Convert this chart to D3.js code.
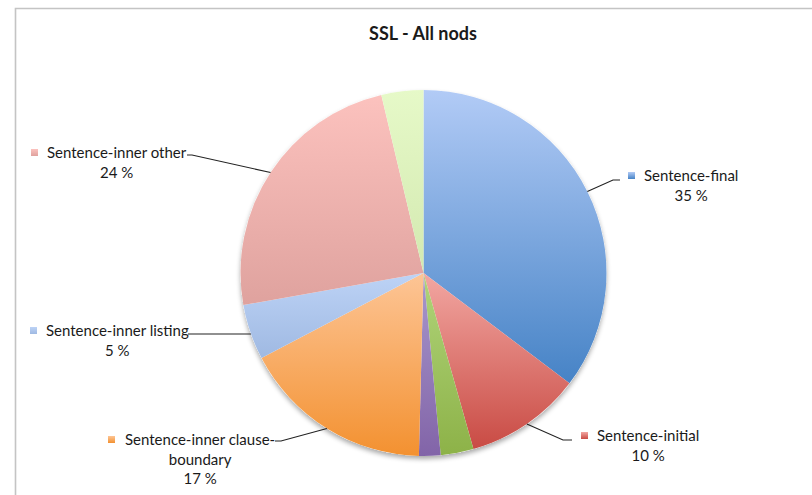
<!DOCTYPE html>
<html>
<head>
<meta charset="utf-8">
<script src="https://cdn.jsdelivr.net/npm/d3@7"></script>
<style>
  body { margin: 0; background: #fff; }
  text { font-family: Lato, "Open Sans", sans-serif; fill: #1a1a1a; }
</style>
</head>
<body>
<div id="chart"></div>
<script>
var width = 812, height = 495;

// slices, clockwise from 12 o'clock
var categories = ["Sentence-final", "Sentence-initial", "Other A", "Other B",
    "Sentence-inner clause-boundary", "Sentence-inner listing", "Sentence-inner other", "Other C"];
var values = [35.3, 10.3, 2.9, 1.9, 16.9, 4.9, 24.1, 3.7];
var topColors = ["#b2cbf6", "#f2a7a2", "#b0d47a", "#a898cc", "#fdc596", "#bdd3f6", "#fcc2be", "#e6f9c8"];
var bottomColors = ["#4683c6", "#c94b44", "#8db248", "#8264a8", "#f39130", "#9fb9e2", "#dfa29e", "#d3e9b0"];
var labelled = [true, true, false, false, true, true, true, false];

var svg = d3.select("#chart")
    .append("svg")
    .attr("width", width)
    .attr("height", height);

// frame (top + left edge only visible)
svg.append("path")
    .attr("d", "M15.5,495 L15.5,8.5 L812,8.5")
    .attr("fill", "none")
    .attr("stroke", "#c4c4c4")
    .attr("stroke-width", 1.6);

svg.append("text")
    .attr("x", 423)
    .attr("y", 40)
    .style("text-anchor", "middle")
    .style("font-size", "18px")
    .style("font-weight", "bold")
    .text("SSL - All nods");

var defs = svg.append("defs");
values.forEach(function (v, i) {
    var g = defs.append("linearGradient")
        .attr("id", "grad" + i)
        .attr("x1", 0).attr("y1", 0).attr("x2", 0).attr("y2", 1);
    g.append("stop").attr("offset", "0%").attr("stop-color", topColors[i]);
    g.append("stop").attr("offset", "100%").attr("stop-color", bottomColors[i]);
});

var shadow = defs.append("filter").attr("id", "shadow")
    .attr("x", "-10%").attr("y", "-10%").attr("width", "120%").attr("height", "125%");
shadow.append("feGaussianBlur").attr("in", "SourceAlpha").attr("stdDeviation", 2.5);
shadow.append("feOffset").attr("dx", 0).attr("dy", 3).attr("result", "b");
shadow.append("feComponentTransfer").append("feFuncA").attr("type", "linear").attr("slope", 0.35);
var merge = shadow.append("feMerge");
merge.append("feMergeNode");
merge.append("feMergeNode").attr("in", "SourceGraphic");

var cx = 423.5, cy = 273, radius = 183;

var pie = d3.pie().sort(null).value(function (d) { return d; });
var arc = d3.arc().innerRadius(0).outerRadius(radius);
var arcs = pie(values);

var pieG = svg.append("g")
    .attr("transform", "translate(" + cx + "," + cy + ")");

pieG.append("circle").attr("r", radius).attr("fill", "#fff").attr("filter", "url(#shadow)");

pieG.selectAll("path.slice")
    .data(arcs)
    .enter()
    .append("path")
    .attr("class", "slice")
    .attr("d", arc)
    .attr("fill", function (d, i) { return "url(#grad" + i + ")"; });

// label layout: leader line points and text block anchors
var total = d3.sum(values);
var labels = [
    { i: 0, line: [[613, 180], [620, 180]], sq: 628, tx: 644, ty: 176, lines: ["Sentence-final"] },
    { i: 1, line: [[563, 440], [572, 440]], sq: 581, tx: 597, ty: 436, lines: ["Sentence-initial"] },
    { i: 4, line: [[281, 441], [275, 441]], sq: 108, tx: 125, ty: 440, lines: ["Sentence-inner clause-", "boundary"] },
    { i: 5, line: [[188, 334]], sq: 30, tx: 46, ty: 331, lines: ["Sentence-inner listing"] },
    { i: 6, line: [[192, 155], [187, 155]], sq: 31, tx: 47, ty: 153, lines: ["Sentence-inner other"] }
];

labels.forEach(function (l) {
    var a = arcs[l.i];
    var mid = (a.startAngle + a.endAngle) / 2;
    var edge = [cx + radius * Math.sin(mid), cy - radius * Math.cos(mid)];
    if (l.i === 5) edge = [cx - radius * Math.sqrt(1 - Math.pow((334 - cy) / radius, 2)), 334];
    var pts = [edge].concat(l.line);
    svg.append("path")
        .attr("d", d3.line()(pts))
        .attr("fill", "none")
        .attr("stroke", "#222")
        .attr("stroke-width", 1.1);

    svg.append("rect")
        .attr("x", l.sq).attr("y", l.ty - 4)
        .attr("width", 7).attr("height", 7)
        .attr("fill", "url(#grad" + l.i + ")");

    var t = svg.append("text")
        .attr("x", l.tx)
        .attr("y", l.ty + 5)
        .style("font-size", "15px")
        .text(l.lines[0]);
    var w = t.node().getComputedTextLength();
    var centerX = l.tx + w / 2;
    var extra = l.lines.slice(1).concat([Math.round(values[l.i] / total * 100) + " %"]);
    extra.forEach(function (s, k) {
        svg.append("text")
            .attr("x", centerX)
            .attr("y", l.ty + 5 + 19.5 * (k + 1))
            .style("text-anchor", "middle")
            .style("font-size", "15px")
            .text(s);
    });
});
</script>
</body>
</html>
